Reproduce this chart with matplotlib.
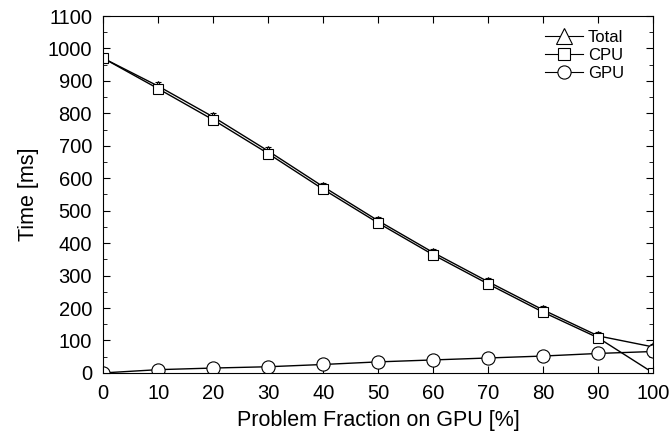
import numpy as np
import matplotlib
matplotlib.use('Agg')
import matplotlib.pyplot as plt
from matplotlib.lines import Line2D
from matplotlib.ticker import MultipleLocator

plt.rcParams['font.family'] = ['Liberation Sans', 'DejaVu Sans']

frac = [0, 10, 20, 30, 40, 50, 60, 70, 80, 90, 100]
total = [970, 884, 789, 684, 574, 469, 371, 281, 194, 114, 80]
cpu = [970, 876, 780, 676, 566, 462, 364, 274, 187, 108, 0]
gpu = [0, 10, 15, 19, 26, 34, 40, 46, 52, 60, 66]
total_err = [8, 12, 12, 12, 12, 12, 12, 12, 12, 12, 8]
cpu_err = [8, 12, 12, 12, 12, 12, 12, 12, 12, 12, 2]
gpu_err = [2, 10, 10, 10, 10, 10, 10, 10, 10, 10, 10]

fig = plt.figure(figsize=(6.7, 4.45), dpi=100)
ax = fig.add_axes([0.154, 0.162, 0.821, 0.802])

common = dict(color='black', mfc='white', mec='black', lw=1.0, mew=0.8,
              elinewidth=0.8, capsize=2.5, capthick=0.8)
ax.errorbar(frac, total, yerr=total_err, marker='^', ms=7, **common)
ax.errorbar(frac, cpu, yerr=cpu_err, marker='s', ms=7.5, **common)
ax.errorbar(frac, gpu, yerr=gpu_err, marker='o', ms=9.5, **common)

ax.set_xlim(0, 100)
ax.set_ylim(0, 1100)
ax.xaxis.set_major_locator(MultipleLocator(10))
ax.yaxis.set_major_locator(MultipleLocator(100))
ax.yaxis.set_minor_locator(MultipleLocator(50))
ax.tick_params(which='both', direction='in', top=True, right=True, labelsize=14.5)
ax.tick_params(which='major', length=5, pad=8)
ax.tick_params(which='minor', length=3)
ax.set_xlabel('Problem Fraction on GPU [%]', fontsize=15.5, labelpad=5)
ax.set_ylabel('Time [ms]', fontsize=15.5, labelpad=6)

# legend handles drawn separately so marker sizes can follow the original
handles = [
    Line2D([], [], color='black', lw=0.8, marker='^', ms=11, mfc='white', mec='black', mew=0.8),
    Line2D([], [], color='black', lw=0.8, marker='s', ms=8, mfc='white', mec='black', mew=0.8),
    Line2D([], [], color='black', lw=0.8, marker='o', ms=9.5, mfc='white', mec='black', mew=0.8),
]
ax.legend(handles, ['Total', 'CPU', 'GPU'], loc='upper right', frameon=False,
          fontsize=12, handlelength=2.3, handletextpad=0.3, labelspacing=0.2,
          borderpad=0, borderaxespad=0, bbox_to_anchor=(0.947, 0.962))

fig.savefig('out.png', dpi=100)
